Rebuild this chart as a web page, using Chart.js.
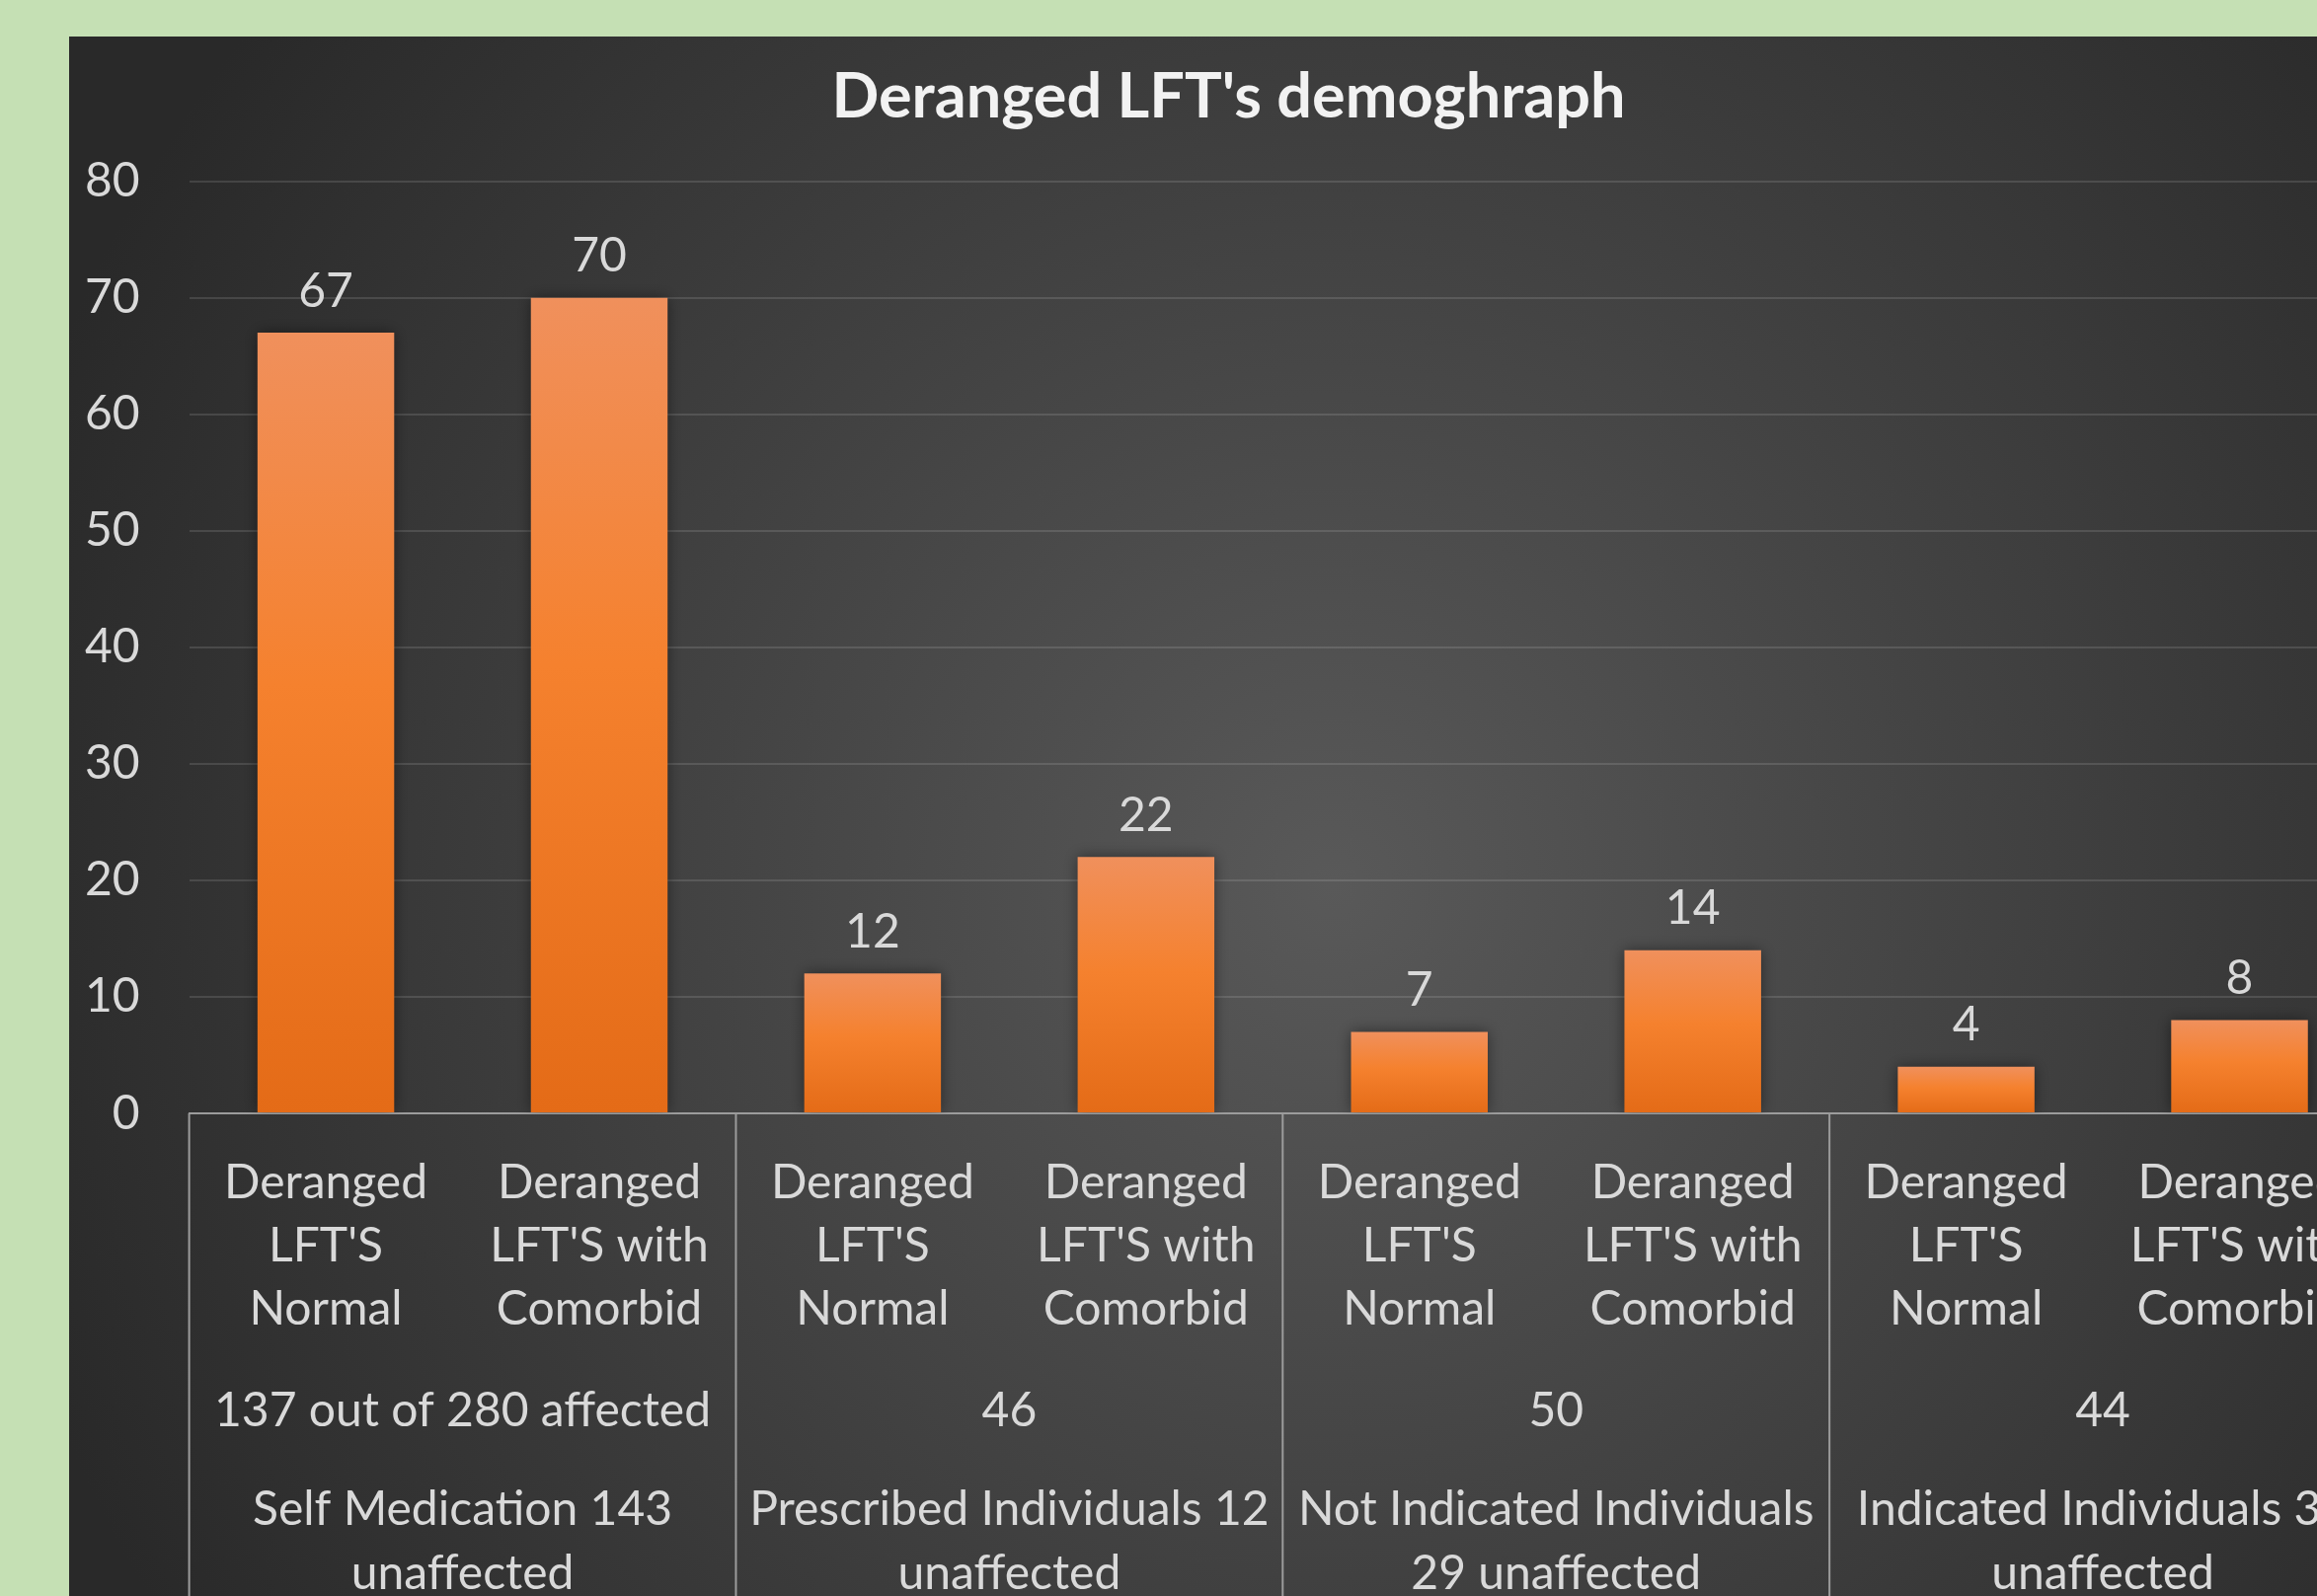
<!DOCTYPE html>
<html>
<head>
<meta charset="utf-8">
<script src="https://cdn.jsdelivr.net/npm/chart.js@4.4.1/dist/chart.umd.min.js"></script>
<style>
    html, body { margin: 0; padding: 0; width: 2347px; height: 1617px; overflow: hidden; background: #C5E0B4; }
    #panel { position: absolute; left: 70px; top: 37px; width: 2367px; height: 1700px; }
</style>
</head>
<body>
<div id="panel"><canvas id="lft-chart" width="2367" height="1700"></canvas></div>
<script>
// categories (one per bar), two bars per group
const categories = [
    ['Deranged', "LFT'S", 'Normal'],
    ['Deranged', "LFT'S with", 'Comorbid'],
    ['Deranged', "LFT'S", 'Normal'],
    ['Deranged', "LFT'S with", 'Comorbid'],
    ['Deranged', "LFT'S", 'Normal'],
    ['Deranged', "LFT'S with", 'Comorbid'],
    ['Deranged', "LFT'S", 'Normal'],
    ['Deranged', "LFT'S with", 'Comorbid']
];
const affected = [67, 70, 12, 22, 7, 14, 4, 8];

const groupTotals = ['137 out of 280 affected', '46', '50', '44'];
const groupNames = [
    ['Self Medication 143', 'unaffected'],
    ['Prescribed Individuals 12', 'unaffected'],
    ['Not Indicated Individuals', '29 unaffected'],
    ['Indicated Individuals 32', 'unaffected']
];
const groupSize = 2;

const yMax = 80;
const yStep = 10;

const FONT = 'Lato, "Open Sans", sans-serif';
const TEXT = '#d9d9d9';

function barGradient(context) {
    const chart = context.chart;
    const { ctx, chartArea, scales } = chart;
    if (!chartArea) return '#F47F2A';
    const top = scales.y.getPixelForValue(context.raw);
    const base = scales.y.getPixelForValue(0);
    const g = ctx.createLinearGradient(0, top, 0, base);
    g.addColorStop(0, '#F0905C');
    g.addColorStop(0.45, '#F5812E');
    g.addColorStop(1, '#E46B17');
    return g;
}

// dark radial background of the chart panel
const panelBackground = {
    id: 'panelBackground',
    beforeDraw(chart) {
        const { ctx, width, height } = chart;
        const g = ctx.createRadialGradient(1280, 860, 0, 1280, 860, 1400);
        g.addColorStop(0, '#595959');
        g.addColorStop(1, '#292929');
        ctx.save();
        ctx.fillStyle = g;
        ctx.fillRect(0, 0, width, height);
        ctx.restore();
    }
};

// soft shadow behind the bars
const barShadow = {
    id: 'barShadow',
    beforeDatasetsDraw(chart) {
        const ctx = chart.ctx;
        ctx.save();
        ctx.shadowColor = 'rgba(0,0,0,0.45)';
        ctx.shadowBlur = 14;
    },
    afterDatasetsDraw(chart) {
        chart.ctx.restore();
    }
};

// value labels above bars
const valueLabels = {
    id: 'valueLabels',
    afterDatasetsDraw(chart) {
        const ctx = chart.ctx;
        const meta = chart.getDatasetMeta(0);
        ctx.save();
        ctx.fillStyle = TEXT;
        ctx.font = '48px ' + FONT;
        ctx.textAlign = 'center';
        ctx.textBaseline = 'middle';
        meta.data.forEach((bar, i) => {
            ctx.fillText(String(affected[i]), bar.x, bar.y - 42);
        });
        ctx.restore();
    }
};

// group rows and separators under the category axis
const groupAxis = {
    id: 'groupAxis',
    afterDraw(chart) {
        const { ctx, scales, chartArea, height } = chart;
        const x = scales.x;
        const half = (x.getPixelForValue(1) - x.getPixelForValue(0)) / 2;
        const axisY = chartArea.bottom;
        ctx.save();
        ctx.strokeStyle = '#9c9c9c';
        ctx.lineWidth = 2;
        for (let i = 0; i < categories.length; i += groupSize) {
            const left = x.getPixelForValue(i) - half;
            ctx.beginPath();
            ctx.moveTo(left, axisY);
            ctx.lineTo(left, height);
            ctx.stroke();
        }
        ctx.fillStyle = TEXT;
        ctx.font = '48px ' + FONT;
        ctx.textAlign = 'center';
        ctx.textBaseline = 'middle';
        groupTotals.forEach((t, g) => {
            const cx = (x.getPixelForValue(g * groupSize) + x.getPixelForValue(g * groupSize + groupSize - 1)) / 2;
            ctx.fillText(t, cx, axisY + 301);
            groupNames[g].forEach((line, k) => {
                ctx.fillText(line, cx, axisY + 401 + k * 65);
            });
        });
        ctx.restore();
    }
};

const ctx = document.getElementById('lft-chart').getContext('2d');

new Chart(ctx, {
    type: 'bar',
    data: {
        labels: categories,
        datasets: [{
            label: 'Deranged LFT',
            data: affected,
            backgroundColor: barGradient,
            borderWidth: 0,
            categoryPercentage: 1,
            barPercentage: 0.5
        }]
    },
    options: {
        responsive: false,
        animation: false,
        events: [],
        layout: {
            padding: { left: 12, right: 30, top: 0, bottom: 340 }
        },
        plugins: {
            legend: { display: false },
            tooltip: { enabled: false },
            title: {
                display: true,
                text: "Deranged LFT's demoghraph",
                color: '#f2f2f2',
                font: { family: FONT, size: 63, weight: 'bold', lineHeight: 1.2 },
                padding: { top: 24, bottom: 47 }
            }
        },
        scales: {
            x: {
                grid: { display: false, drawTicks: false },
                border: { display: true, color: '#9c9c9c', width: 2 },
                ticks: {
                    color: TEXT,
                    font: { family: FONT, size: 48, lineHeight: 1.34 },
                    padding: 38,
                    maxRotation: 0,
                    autoSkip: false
                }
            },
            y: {
                min: 0,
                max: yMax,
                afterFit(scale) { scale.width = 109.6; },
                grid: {
                    color: 'rgba(255,255,255,0.12)',
                    lineWidth: 2,
                    drawTicks: false
                },
                border: { display: false },
                ticks: {
                    stepSize: yStep,
                    color: TEXT,
                    font: { family: FONT, size: 48 },
                    padding: 50
                }
            }
        }
    },
    plugins: [panelBackground, barShadow, valueLabels, groupAxis]
});
</script>
</body>
</html>
